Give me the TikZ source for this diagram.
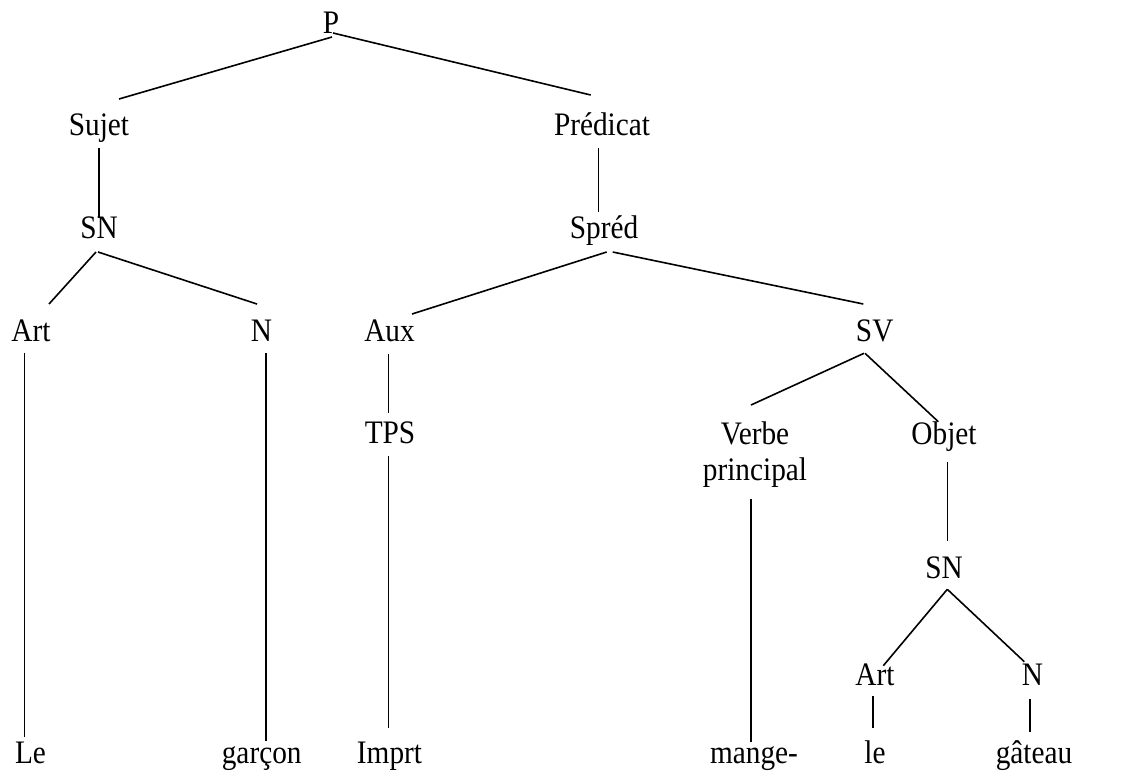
\documentclass[tikz,border=0pt]{standalone}
\usepackage{fontspec}
\setmainfont{Liberation Serif}
\usepackage{graphicx}
\newcommand\mylbl[1]{\scalebox{1}[1.12]{#1}}
\begin{document}
\begin{tikzpicture}[x=1pt,y=-1pt,
  lab/.style={anchor=base,inner sep=0pt,font=\fontsize{29.3}{32.2}\selectfont},
  edge/.style={line width=1.6pt}]
\useasboundingbox (0,0) rectangle (1122,772);
\node[lab] (P) at (331,33) {\mylbl{P}};
\node[lab] (sujet) at (99,135) {\mylbl{Sujet}};
\node[lab] (pred) at (602,135) {\mylbl{Prédicat}};
\node[lab] (sn1) at (99,238) {\mylbl{SN}};
\node[lab] (spred) at (604,238) {\mylbl{Spréd}};
\node[lab] (art1) at (31,341) {\mylbl{Art}};
\node[lab] (n1) at (261.5,341) {\mylbl{N}};
\node[lab] (aux) at (389.5,341) {\mylbl{Aux}};
\node[lab] (sv) at (874.7,341) {\mylbl{SV}};
\node[lab] (tps) at (390,443.3) {\mylbl{TPS}};
\node[lab] (verbe) at (755,444) {\mylbl{\begin{tabular}[t]{@{}c@{}}Verbe\\principal\end{tabular}}};
\node[lab] (objet) at (944,444) {\mylbl{Objet}};
\node[lab] (sn2) at (944,578.3) {\mylbl{SN}};
\node[lab] (art2) at (875,685) {\mylbl{Art}};
\node[lab] (n2) at (1032.5,685) {\mylbl{N}};
\node[lab] (le1) at (30.5,763.3) {\mylbl{Le}};
\node[lab] (garcon) at (261.7,763.3) {\mylbl{garçon}};
\node[lab] (imprt) at (389.5,763.3) {\mylbl{Imprt}};
\node[lab] (mange) at (754,763.3) {\mylbl{mange-}};
\node[lab] (le2) at (875,763.3) {\mylbl{le}};
\node[lab] (gateau) at (1034,763.3) {\mylbl{gâteau}};
\begin{scope}[edge]
\draw ([shift={(1,4)}]P.base) -- ([shift={(20,-36)}]sujet.base);
\draw ([shift={(2,0)}]P.base) -- ([shift={(-11.3,-40)}]pred.base);
\draw ([shift={(-0.3,13)}]sujet.base) -- ([shift={(-0.3,-20)}]sn1.base);
\draw ([shift={(-3,14)}]sn1.base) -- ([shift={(18,-37)}]art1.base);
\draw ([shift={(-1,14)}]sn1.base) -- ([shift={(-4.5,-37)}]n1.base);
\draw ([shift={(-3.7,13)}]pred.base) -- ([shift={(-5.7,-26)}]spred.base);
\draw ([shift={(2.7,14)}]spred.base) -- ([shift={(22.5,-27)}]aux.base);
\draw ([shift={(8.7,14)}]spred.base) -- ([shift={(-11.4,-37)}]sv.base);
\draw ([shift={(-6.7,11.7)}]art1.base) -- ([shift={(-6.2,-26.6)}]le1.base);
\draw ([shift={(4.2,12)}]n1.base) -- ([shift={(4,-22.6)}]garcon.base);
\draw ([shift={(-1.2,13)}]aux.base) -- ([shift={(-1.7,-30)}]tps.base);
\draw ([shift={(-1.7,12.7)}]tps.base) -- ([shift={(-1.2,-35)}]imprt.base);
\draw ([shift={(-10.7,12.3)}]sv.base) -- ([shift={(-4,-39)}]verbe.base);
\draw ([shift={(-9.7,12.3)}]sv.base) -- ([shift={(-5.7,-22.3)}]objet.base);
\draw ([shift={(-4,55.3)}]verbe.base) -- ([shift={(-3,-21.6)}]mange.base);
\draw ([shift={(3.3,18.3)}]objet.base) -- ([shift={(3.3,-37.3)}]sn2.base);
\draw ([shift={(3.3,11)}]sn2.base) -- ([shift={(8.3,-19.3)}]art2.base);
\draw ([shift={(3.3,11)}]sn2.base) -- ([shift={(-8.2,-23.3)}]n2.base);
\draw ([shift={(-2.3,10.7)}]art2.base) -- ([shift={(-2.3,-35)}]le2.base);
\draw ([shift={(-2.5,14)}]n2.base) -- ([shift={(-4,-31)}]gateau.base);
\end{scope}
\end{tikzpicture}
\end{document}
